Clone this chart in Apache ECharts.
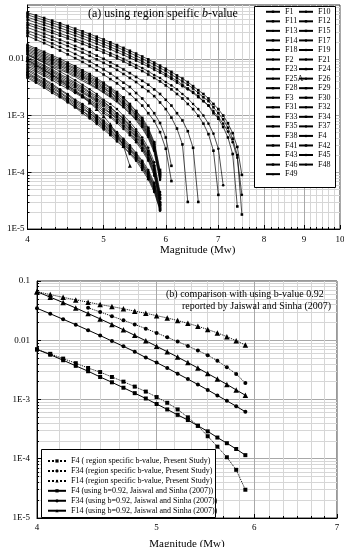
<!DOCTYPE html>
<html>
<head>
<meta charset="utf-8">
<script src="https://cdn.jsdelivr.net/npm/echarts@6/dist/echarts.min.js"></script>
<style>
  html, body { margin: 0; padding: 0; background: #fff; }
  #chart { width: 344px; height: 547px; }
</style>
</head>
<body>
<div id="chart"></div>
<script>
// magnitudes (Mw) of the plotted points
const magA = [4.0,4.1,4.2,4.3,4.4,4.5,4.6,4.7,4.8,4.9,5.0,5.1,5.2,5.3,5.4,5.5,5.6,5.7,5.8,5.9,
              6.0,6.1,6.2,6.3,6.4,6.5,6.6,6.7,6.8,6.9,7.0,7.1,7.2,7.3,7.4,7.5];
const magB = [4.0,4.1,4.2,4.3,4.4,4.5,4.6,4.7,4.8,4.9,5.0,5.1,5.2,5.3,5.4,5.5,5.6,5.7,5.8,5.9];

// (a) annual rate of events > Mw=4, region specific b-value
const F14 = [0.065,0.0584,0.0525,0.0472,0.0424,0.038,0.0341,0.0306,0.0274,0.0246,0.022,0.0196,0.0175,0.0156,0.0139,0.0124,0.011,0.0098,0.0086,0.0076,0.0067,0.0059,0.0051,0.0045,0.0039,0.0033,0.0028,0.0024,0.002,0.0016,0.0013,0.001,0.00073,0.00049,0.00028,0.00009];
const F1  = [0.0595,0.0535,0.0481,0.0432,0.0388,0.0348,0.0312,0.028,0.0251,0.0224,0.0201,0.0179,0.016,0.0143,0.0127,0.0113,0.01,0.0089,0.0079,0.0069,0.0061,0.0053,0.0046,0.004,0.0035,0.003,0.0025,0.0021,0.0018,0.0014,0.0011,0.00086,0.00061,0.00039,0.0002,0.000018];
const F34 = [0.054,0.0485,0.0436,0.0391,0.0351,0.0315,0.0283,0.0253,0.0227,0.0203,0.0181,0.0162,0.0144,0.0129,0.0114,0.0101,0.009,0.0079,0.007,0.0062,0.0054,0.0047,0.0041,0.0035,0.003,0.0026,0.0022,0.0018,0.0015,0.0011,0.00088,0.00063,0.00041,0.00021,0.000025];
const F10 = [0.0486,0.0437,0.0393,0.0353,0.0317,0.0284,0.0255,0.0229,0.0205,0.0183,0.0164,0.0147,0.0131,0.0117,0.0104,0.0093,0.0082,0.0073,0.0064,0.0057,0.005,0.0044,0.0038,0.0033,0.0029,0.0025,0.0021,0.0018,0.0015,0.0012,0.00094,0.00072,0.00052,0.00034,0.00018,0.00004];
const F13 = [0.0435,0.0391,0.035,0.0314,0.0281,0.0252,0.0225,0.0202,0.018,0.0161,0.0143,0.0127,0.0113,0.01,0.0088,0.0078,0.0069,0.006,0.0052,0.0046,0.0039,0.0034,0.0029,0.0024,0.002,0.0016,0.0013,0.001,0.00072,0.00048,0.00026,0.000059];
const F18 = [0.0397,0.0356,0.0319,0.0286,0.0256,0.0229,0.0205,0.0183,0.0163,0.0145,0.0129,0.0115,0.0102,0.009,0.0079,0.007,0.0061,0.0053,0.0046,0.004,0.0034,0.0029,0.0024,0.002,0.0016,0.0013,0.00099,0.00072,0.00047,0.00024,0.00004];
const F23 = [0.0356,0.0315,0.0279,0.0247,0.0218,0.0192,0.0169,0.0149,0.0131,0.0114,0.01,0.0087,0.0076,0.0065,0.0056,0.0048,0.0041,0.0035,0.0029,0.0024,0.0019,0.0015,0.0011,0.00082,0.00053,0.00027,0.00003];
const F28 = [0.0315,0.0278,0.0246,0.0217,0.0191,0.0168,0.0148,0.0129,0.0113,0.0098,0.0085,0.0074,0.0064,0.0054,0.0046,0.0039,0.0032,0.0027,0.0022,0.0017,0.0013,0.00092,0.00059,0.00031,0.00003];
const F31 = [0.0283,0.0247,0.0215,0.0187,0.0163,0.0141,0.0122,0.0105,0.009,0.0077,0.0065,0.0055,0.0046,0.0038,0.0032,0.0025,0.002,0.0015,0.0011,0.00074,0.00041,0.00013];
const F42 = [0.0254,0.0219,0.0189,0.0163,0.014,0.012,0.0103,0.0088,0.0075,0.0063,0.0053,0.0044,0.0037,0.003,0.0024,0.0019,0.0015,0.0011,0.0008,0.00051,0.00026,0.00007];
const F11 = [0.0176,0.0153,0.0133,0.0115,0.01,0.0086,0.0074,0.0063,0.0054,0.0045,0.0038,0.0031,0.0026,0.0021,0.0016,0.0012,0.00091,0.00061,0.00034,0.00011];
const F24 = [0.0165,0.0144,0.0125,0.0108,0.0093,0.008,0.0069,0.0059,0.005,0.0042,0.0036,0.003,0.0024,0.002,0.0015,0.0012,0.00085,0.00057,0.00032,0.0001];
const F12 = [0.0155,0.0135,0.0117,0.0101,0.0088,0.0076,0.0065,0.0055,0.0047,0.004,0.0033,0.0028,0.0023,0.0018,0.0014,0.0011,0.0008,0.00053,0.0003,0.000095];
const F29 = [0.0146,0.0127,0.011,0.0096,0.0083,0.0071,0.0061,0.0052,0.0044,0.0038,0.0031,0.0026,0.0021,0.0017,0.0014,0.001,0.00075,0.0005,0.00028,0.000089];
const F15 = [0.0138,0.012,0.0104,0.009,0.0078,0.0067,0.0058,0.0049,0.0042,0.0035,0.003,0.0025,0.002,0.0016,0.0013,0.00098,0.00071,0.00047,0.00027,0.000084];
const F32 = [0.013,0.0113,0.0098,0.0085,0.0074,0.0063,0.0054,0.0047,0.004,0.0033,0.0028,0.0023,0.0019,0.0015,0.0012,0.00092,0.00067,0.00045,0.00025,0.000079];
const F19 = [0.0122,0.0106,0.0092,0.008,0.0069,0.0059,0.0051,0.0044,0.0037,0.0031,0.0026,0.0022,0.0018,0.0014,0.0011,0.00087,0.00063,0.00042,0.00024,0.000074];
const F37 = [0.0119,0.01,0.0085,0.0071,0.006,0.005,0.0042,0.0035,0.0029,0.0024,0.0019,0.0016,0.0013,0.00099,0.00077,0.00057,0.00041,0.00027,0.00015,0.000045];
const F43 = [0.0115,0.01,0.0087,0.0075,0.0065,0.0056,0.0048,0.0041,0.0035,0.003,0.0025,0.0021,0.0017,0.0014,0.0011,0.00082,0.00059,0.0004,0.00022,0.00007];
const F17 = [0.0108,0.0091,0.0077,0.0065,0.0054,0.0046,0.0038,0.0032,0.0026,0.0022,0.0018,0.0014,0.0011,0.0009,0.00069,0.00052,0.00037,0.00024,0.00013,0.000041];
const F3  = [0.0102,0.0086,0.0073,0.0061,0.0051,0.0043,0.0036,0.003,0.0025,0.002,0.0017,0.0014,0.0011,0.00085,0.00066,0.00049,0.00035,0.00023,0.00013,0.000039];
const F2  = [0.0096,0.0081,0.0068,0.0058,0.0048,0.004,0.0034,0.0028,0.0023,0.0019,0.0016,0.0013,0.001,0.0008,0.00062,0.00046,0.00033,0.00022,0.00012,0.000036];
const F33 = [0.009,0.0076,0.0064,0.0054,0.0045,0.0038,0.0032,0.0026,0.0022,0.0018,0.0015,0.0012,0.00095,0.00075,0.00058,0.00043,0.00031,0.0002,0.00011,0.000034];
const F25A = [0.0085,0.0072,0.0061,0.0051,0.0043,0.0036,0.003,0.0025,0.0021,0.0017,0.0014,0.0011,0.0009,0.00071,0.00055,0.00041,0.00029,0.00019,0.00011,0.000032];
const F38 = [0.008,0.0068,0.0057,0.0048,0.004,0.0034,0.0028,0.0023,0.0019,0.0016,0.0013,0.0011,0.00085,0.00067,0.00051,0.00038,0.00027,0.00018,0.000099,0.00003];
const F45 = [0.0075,0.0063,0.0053,0.0045,0.0038,0.0032,0.0026,0.0022,0.0018,0.0015,0.0012,0.00099,0.00079,0.00063,0.00048,0.00036,0.00026,0.00017,0.000093,0.000029];
const F4  = [0.007,0.0059,0.005,0.0042,0.0035,0.003,0.0025,0.0021,0.0017,0.0014,0.0011,0.00093,0.00074,0.00058,0.00045,0.00034,0.00024,0.00016,0.000087,0.000027];
const F21 = [0.0066,0.0054,0.0044,0.0036,0.0029,0.0024,0.0019,0.0016,0.0013,0.001,0.00082,0.00065,0.00051,0.00039,0.0003,0.00022,0.00016,0.00011,0.000065,0.00003];
const F35 = [0.0062,0.0051,0.0042,0.0034,0.0028,0.0023,0.0018,0.0015,0.0012,0.00096,0.00077,0.00061,0.00048,0.00037,0.00028,0.00021,0.00015,0.0001,0.000061,0.000028];
const F26 = [0.0058,0.0047,0.0039,0.0032,0.0026,0.0021,0.0017,0.0014,0.0011,0.0009,0.00072,0.00057,0.00045,0.00035,0.00026,0.0002,0.00014,0.000095,0.000057,0.000026];
const F41 = [0.0055,0.0045,0.0037,0.003,0.0025,0.002,0.0016,0.0013,0.0011,0.00085,0.00068,0.00054,0.00042,0.00033,0.00025,0.00019,0.00013,0.00009,0.000054,0.000025];
const F30 = [0.0052,0.0043,0.0035,0.0028,0.0023,0.0019,0.0015,0.0012,0.001,0.00081,0.00064,0.00051,0.0004,0.00031,0.00024,0.00018,0.00013,0.000085,0.000051,0.000023];
const F46 = [0.0049,0.004,0.0033,0.0027,0.0022,0.0018,0.0014,0.0012,0.00094,0.00076,0.00061,0.00048,0.00038,0.00029,0.00022,0.00017,0.00012,0.00008,0.000048,0.000022];
const F48 = [0.0046,0.0038,0.0031,0.0025,0.0021,0.0017,0.0014,0.0011,0.00089,0.00071,0.00057,0.00045,0.00035,0.00028,0.00021,0.00016,0.00011,0.000075,0.000045,0.000021];
const F49 = [0.0095,0.0078,0.0064,0.0052,0.0042,0.0034,0.0027,0.0022,0.0017,0.0013,0.00097,0.0007,0.00047,0.00029,0.00013];

// legend columns of panel (a)
const legendA1 = ['F1','F11','F13','F14','F18','F2','F23','F25A','F28','F3','F31','F33','F35','F38','F41','F43','F46','F49'];
const legendA2 = ['F10','F12','F15','F17','F19','F21','F24','F26','F29','F30','F32','F34','F37','F4','F42','F45','F48'];

// (b) comparison with b = 0.92 (Jaiswal and Sinha 2007)
const bF4Present  = [0.007,0.0059,0.0049,0.0041,0.0034,0.0029,0.0024,0.002,0.00165,0.00136,0.0011,0.00088,0.00068,0.0005,0.00036,0.00024,0.00016,0.000106,0.000065,0.00003];
const bF34Present = [0.0354,0.03,0.0255,0.0217,0.0185,0.0157,0.0133,0.0112,0.0095,0.008,0.0067,0.0056,0.0045,0.0035,0.0027,0.0019]; // from Mw 4.4
const bF14Present = [0.066,0.059,0.053,0.048,0.044,0.04,0.037,0.034,0.031,0.0285,0.026,0.0238,0.0215,0.0193,0.0172,0.0152,0.0133,0.0115,0.0098,0.0083];
const bF4Jaiswal  = [0.007,0.0057,0.0046,0.0037,0.003,0.0024,0.00195,0.00158,0.00128,0.00104,0.00084,0.00068,0.00055,0.00045,0.00036,0.00029,0.000228,0.000183,0.000146,0.000115];
const bF34Jaiswal = [0.0346,0.028,0.0226,0.0183,0.0148,0.012,0.0097,0.0079,0.0064,0.0051,0.0042,0.0034,0.00273,0.00221,0.00179,0.00145,0.00117,0.00095,0.00077,0.00062];
const bF14Jaiswal = [0.066,0.0534,0.0432,0.035,0.0283,0.0229,0.0185,0.015,0.0121,0.0098,0.0079,0.0064,0.0052,0.0042,0.0034,0.00274,0.00222,0.0018,0.00145,0.00118];

const namesB = [
  'F4 ( region specific b-value, Present Study)',
  'F34 (region specific b-value, Present Study)',
  'F14 (region specific b-value, Present Study)',
  'F4 (using b=0.92, Jaiswal and Sinha (2007))',
  'F34 (using b=0.92, Jaiswal and Sinha (2007))',
  'F14 (using b=0.92, Jaiswal and Sinha (2007))'
];

// axis tick labels
const xTicksA = [4,5,6,7,8,9,10];
const xTicksB = [4,5,6,7];
const yTicksA = [1e-5,1e-4,1e-3,0.01];
const yTicksB = [1e-5,1e-4,1e-3,0.01,0.1];

const curvesA = {F1,F10,F11,F12,F13,F15,F14,F17,F18,F19,F2,F21,F23,F24,F25A,F26,F28,F29,
                 F3,F30,F31,F32,F33,F34,F35,F37,F38,F4,F41,F42,F43,F45,F46,F48,F49};
const symbolA = {F1:'rect',F10:'circle',F11:'rect',F12:'rect',F13:'circle',F15:'rect',F14:'rect',
  F17:'circle',F18:'rect',F19:'circle',F2:'circle',F21:'circle',F23:'rect',F24:'rect',F25A:'none',
  F26:'circle',F28:'rect',F29:'rect',F3:'circle',F30:'rect',F31:'rect',F32:'circle',F33:'rect',
  F34:'rect',F35:'rect',F37:'circle',F38:'circle',F4:'circle',F41:'rect',F42:'rect',F43:'none',
  F45:'circle',F46:'rect',F48:'circle',F49:'triangle'};

const FONT = 'Liberation Serif';

// minor grid positions: six parts per unit in Mw, 1..9 per decade in rate
function xMinors(majors) {
  const out = [];
  for (let i = 0; i < majors.length - 1; i++)
    for (let k = 0; k < 6; k++) out.push(majors[i] + k / 6);
  out.push(majors[majors.length - 1]);
  return out;
}
function yMinors(lo, hi) {
  const out = [];
  for (let e = -5; e <= -1; e++)
    for (let m = 1; m <= 9; m++) {
      const v = m * Math.pow(10, e);
      if (v >= lo * 0.999 && v <= hi * 1.001) out.push(v);
    }
  return out;
}
function fmtY(v) {
  const e = Math.round(Math.log10(v));
  if (e === -1) return '0.1';
  if (e === -2) return '0.01';
  return '1E' + e;
}

function xPair(gridIndex, min, max, majors, nameGap, namePad, labelMargin) {
  return [
    { type: 'log', gridIndex, min, max, position: 'bottom',
      axisLine: { show: true, onZero: false, lineStyle: { color: '#000', width: 1 } },
      axisTick: { show: true, inside: true, length: 2, customValues: xMinors(majors), lineStyle: { color: '#000' } },
      axisLabel: { show: false },
      splitLine: { show: true, lineStyle: { color: '#d6d6d6', width: 1 } } },
    { type: 'log', gridIndex, min, max, position: 'bottom',
      axisLine: { show: false },
      axisTick: { show: true, inside: true, length: 4, customValues: majors, lineStyle: { color: '#000' } },
      axisLabel: { show: true, customValues: majors, margin: labelMargin, fontSize: 9, fontFamily: FONT, color: '#000',
                   formatter: v => String(Math.round(v)) },
      splitLine: { show: true, lineStyle: { color: '#a8a8a8', width: 1 } },
      name: 'Magnitude (Mw)', nameLocation: 'middle', nameGap,
      nameTextStyle: { fontSize: 11, fontFamily: FONT, color: '#000', padding: namePad } }
  ];
}
function yPair(gridIndex, min, max, majors, nameGap, labelMargin) {
  return [
    { type: 'log', gridIndex, min, max, position: 'left',
      axisLine: { show: true, onZero: false, lineStyle: { color: '#000', width: 1 } },
      axisTick: { show: true, inside: true, length: 2, customValues: yMinors(min, max), lineStyle: { color: '#000' } },
      axisLabel: { show: false },
      splitLine: { show: true, lineStyle: { color: '#d6d6d6', width: 1 } } },
    { type: 'log', gridIndex, min, max, position: 'left',
      axisLine: { show: false },
      axisTick: { show: true, inside: true, length: 4, customValues: majors, lineStyle: { color: '#000' } },
      axisLabel: { show: true, customValues: majors, margin: labelMargin, fontSize: 9, fontFamily: FONT, color: '#000',
                   formatter: fmtY },
      splitLine: { show: true, lineStyle: { color: '#a8a8a8', width: 1 } },
      name: 'Annual Rate of Events > Mw=4', nameLocation: 'middle', nameGap,
      nameTextStyle: { fontSize: 11, fontFamily: FONT, color: '#000' } }
  ];
}

const series = [];
Object.keys(curvesA).forEach(name => {
  const vals = curvesA[name];
  series.push({
    type: 'line', name, xAxisIndex: 0, yAxisIndex: 0,
    data: vals.map((v, i) => [magA[i], v]),
    symbol: symbolA[name], symbolSize: symbolA[name] === 'triangle' ? 4 : 2.6,
    lineStyle: { color: '#000', width: 0.7 }, itemStyle: { color: '#000' },
    silent: true, animation: false, z: 2
  });
});

const dataB = [
  [bF4Present, 0, 'rect', 'dotted'],
  [bF34Present, 4, 'circle', 'dotted'],
  [bF14Present, 0, 'triangle', 'dotted'],
  [bF4Jaiswal, 0, 'rect', 'solid'],
  [bF34Jaiswal, 0, 'circle', 'solid'],
  [bF14Jaiswal, 0, 'triangle', 'solid']
];
dataB.forEach(([vals, start, sym, dash], k) => {
  series.push({
    type: 'line', name: namesB[k], xAxisIndex: 2, yAxisIndex: 2,
    data: vals.map((v, i) => [magB[start + i], v]),
    symbol: sym, symbolSize: sym === 'triangle' ? 5.5 : 4,
    lineStyle: { color: '#000', width: 1, type: dash }, itemStyle: { color: '#000' },
    silent: true, animation: false
  });
});

const legendBase = {
  orient: 'vertical', padding: 0, itemGap: 0, selectedMode: false,
  inactiveColor: '#000'
};

const option = {
  animation: false,
  backgroundColor: '#fff',
  grid: [
    { left: 27.5, top: 5, right: 4, bottom: 318, show: true, borderColor: '#333', borderWidth: 1,
      outerBoundsMode: 'none', containLabel: false },
    { left: 37, top: 281, right: 7, bottom: 29, show: true, borderColor: '#333', borderWidth: 1,
      outerBoundsMode: 'none', containLabel: false }
  ],
  xAxis: [
    ...xPair(0, 4, 10, xTicksA, 12, [0, 0, 0, 28], 6),
    ...xPair(1, 4, 7, xTicksB, 21, [0, 0, 0, 0], 5)
  ],
  yAxis: [
    ...yPair(0, 1e-5, 0.089, yTicksA, 15.5, 3),
    ...yPair(1, 1e-5, 0.1, yTicksB, 25.5, 7)
  ],
  title: [
    { text: '{n|(a) using region speific }{i|b}{n|-value}', left: 88, top: 8, padding: 0,
      textStyle: { fontWeight: 'normal', rich: {
        n: { fontSize: 12, fontFamily: FONT, color: '#000', fontWeight: 'normal' },
        i: { fontSize: 12, fontFamily: FONT, color: '#000', fontWeight: 'normal', fontStyle: 'italic' } } } },
    { text: '(b) comparison with using b-value 0.92', left: 166, top: 289, padding: 0,
      textStyle: { fontSize: 10, fontFamily: FONT, color: '#000', fontWeight: 'normal' } },
    { text: 'reported by Jaiswal and Sinha (2007)', left: 182, top: 301, padding: 0,
      textStyle: { fontSize: 10, fontFamily: FONT, color: '#000', fontWeight: 'normal' } }
  ],
  legend: [
    Object.assign({}, legendBase, { data: legendA1, left: 265, top: 7, itemWidth: 14, itemHeight: 3,
      textStyle: { fontSize: 8, fontFamily: FONT, color: '#000', lineHeight: 9.55 } }),
    Object.assign({}, legendBase, { data: legendA2, left: 298, top: 7, itemWidth: 14, itemHeight: 3,
      textStyle: { fontSize: 8, fontFamily: FONT, color: '#000', lineHeight: 9.55 } }),
    Object.assign({}, legendBase, { data: namesB, left: 47, top: 456, itemWidth: 18, itemHeight: 4,
      textStyle: { fontSize: 8, fontFamily: FONT, color: '#000', lineHeight: 9.95 } })
  ],
  graphic: [
    { type: 'rect', z: 3, shape: { x: 254.5, y: 6.5, width: 81, height: 181 },
      style: { fill: '#fff', stroke: '#000', lineWidth: 1 } },
    { type: 'rect', z: 3, shape: { x: 41.5, y: 449.5, width: 174, height: 68 },
      style: { fill: '#fff', stroke: '#000', lineWidth: 1 } }
  ],
  series
};

const chart = echarts.init(document.getElementById('chart'));
chart.setOption(option);
</script>
</body>
</html>
